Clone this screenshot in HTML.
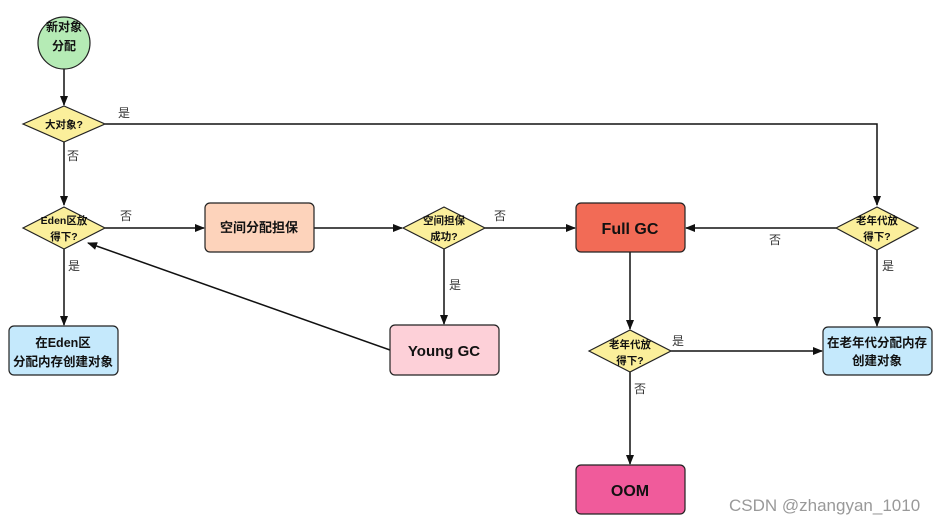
<!DOCTYPE html>
<html><head><meta charset="utf-8"><style>
body{margin:0;background:#fff;}
svg{display:block;font-family:"Liberation Sans","Noto Sans CJK SC",sans-serif;}
</style></head><body>
<svg width="945" height="523" viewBox="0 0 945 523" xmlns="http://www.w3.org/2000/svg">
<defs><marker id="a" markerWidth="10" markerHeight="10" refX="9" refY="5" orient="auto" markerUnits="userSpaceOnUse"><path d="M0,1 L10,5 L0,9 z" fill="#111"/></marker></defs>
<g stroke="#111" stroke-width="1.5" fill="none">
<line x1="64" y1="69" x2="64" y2="105" marker-end="url(#a)"/>
<polyline points="105,124 877,124 877,205" marker-end="url(#a)"/>
<line x1="64" y1="142" x2="64" y2="205" marker-end="url(#a)"/>
<line x1="105" y1="228" x2="204" y2="228" marker-end="url(#a)"/>
<line x1="64" y1="249" x2="64" y2="325" marker-end="url(#a)"/>
<line x1="314" y1="228" x2="402" y2="228" marker-end="url(#a)"/>
<line x1="485" y1="228" x2="575" y2="228" marker-end="url(#a)"/>
<line x1="444" y1="249" x2="444" y2="324" marker-end="url(#a)"/>
<line x1="390" y1="350" x2="88" y2="243" marker-end="url(#a)"/>
<line x1="836" y1="228" x2="686" y2="228" marker-end="url(#a)"/>
<line x1="877" y1="250" x2="877" y2="326" marker-end="url(#a)"/>
<line x1="630" y1="252" x2="630" y2="329" marker-end="url(#a)"/>
<line x1="671" y1="351" x2="822" y2="351" marker-end="url(#a)"/>
<line x1="630" y1="372" x2="630" y2="464" marker-end="url(#a)"/>
</g>
<g stroke="#222" stroke-width="1.2">
<circle cx="64" cy="43" r="26" fill="#b5ebb5"/>
<polygon points="23,124 64,106 105,124 64,142" fill="#fbef9b"/>
<polygon points="23,228 64,207 105,228 64,249" fill="#fbef9b"/>
<polygon points="403,228 444,207 485,228 444,249" fill="#fbef9b"/>
<polygon points="836,228 877,207 918,228 877,250" fill="#fbef9b"/>
<polygon points="589,351 630,330 671,351 630,372" fill="#fbef9b"/>
<rect x="9" y="326" width="109" height="49" rx="5" fill="#c5e9fc"/>
<rect x="205" y="203" width="109" height="49" rx="5" fill="#fdd3bb"/>
<rect x="390" y="325" width="109" height="50" rx="5" fill="#fdd0d8"/>
<rect x="576" y="203" width="109" height="49" rx="5" fill="#f26b56"/>
<rect x="823" y="327" width="109" height="48" rx="5" fill="#c5e9fc"/>
<rect x="576" y="465" width="109" height="49" rx="5" fill="#f05b9b"/>
</g>
<g fill="#111" text-anchor="middle" font-size="10.5" font-weight="bold">
<text x="64" y="31" font-size="12">新对象</text><text x="64" y="50" font-size="12">分配</text>
<text x="64" y="128">大对象?</text>
<text x="64" y="224">Eden区放</text><text x="64" y="240">得下?</text>
<text x="444" y="224">空间担保</text><text x="444" y="240">成功?</text>
<text x="877" y="224">老年代放</text><text x="877" y="240">得下?</text>
<text x="630" y="348">老年代放</text><text x="630" y="364">得下?</text>
<text x="63" y="347" font-size="12.5">在Eden区</text><text x="63" y="366" font-size="12.5">分配内存创建对象</text>
<text x="259" y="232" font-size="13">空间分配担保</text>
<text x="444" y="356" font-size="15">Young GC</text>
<text x="630" y="234" font-size="16">Full GC</text>
<text x="877" y="347" font-size="12.5">在老年代分配内存</text><text x="877" y="365" font-size="12.5">创建对象</text>
<text x="630" y="496" font-size="16">OOM</text>
</g>
<g fill="#333" font-size="12" text-anchor="middle">
<text x="124" y="117">是</text><text x="73" y="160">否</text>
<text x="126" y="220">否</text><text x="74" y="270">是</text>
<text x="455" y="289">是</text><text x="500" y="220">否</text>
<text x="775" y="244">否</text><text x="888" y="270">是</text>
<text x="678" y="345">是</text><text x="640" y="393">否</text>
</g>
<text x="729" y="511" font-size="17" fill="#999">CSDN @zhangyan_1010</text>
</svg>
</body></html>
